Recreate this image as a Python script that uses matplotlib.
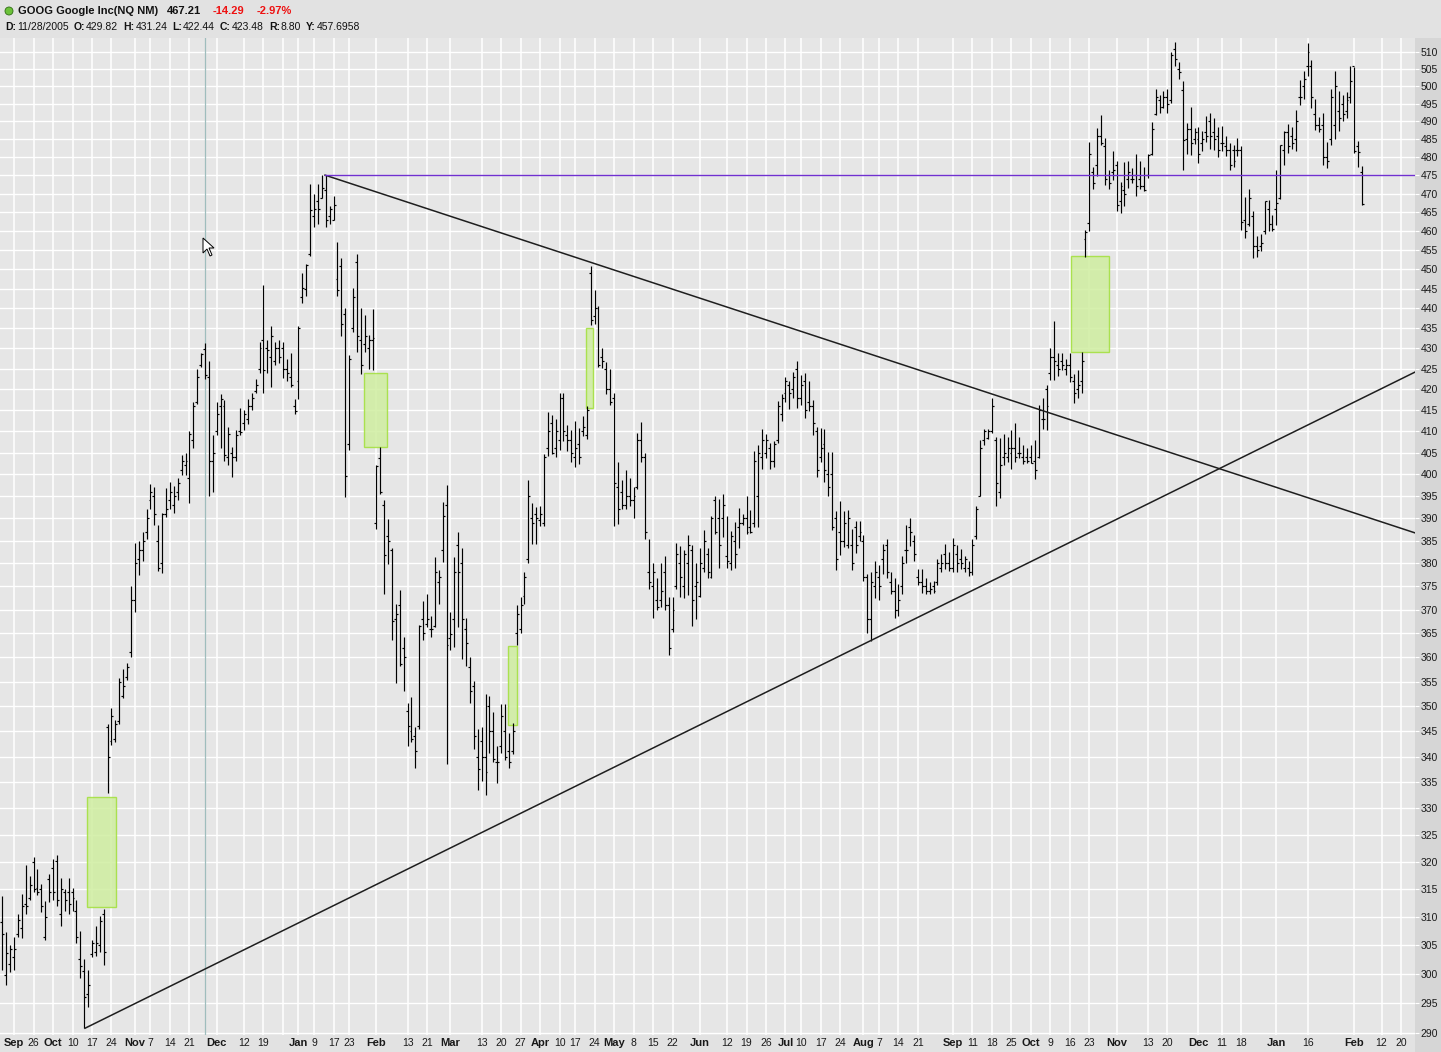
import matplotlib
matplotlib.use('Agg')
import matplotlib.pyplot as plt
from matplotlib.patches import Rectangle, Polygon, Ellipse
import numpy as np
import pandas as pd

plt.rcParams['font.family'] = ['Liberation Sans', 'DejaVu Sans']

W, H = 1441, 1052

# trading calendar (NYSE holidays removed)
holidays = ['2005-11-24', '2005-12-26', '2006-01-02', '2006-01-16', '2006-02-20',
            '2006-04-14', '2006-05-29', '2006-07-04', '2006-09-04', '2006-11-23',
            '2006-12-25', '2007-01-01', '2007-01-02', '2007-01-15', '2007-02-19']
all_days = pd.bdate_range('2005-09-14', '2007-02-28')
days = all_days[~all_days.isin(pd.to_datetime(holidays))]

# daily bars, 2005-09-14 .. 2007-02-05
opens = [
    309.2, 299.9, 301.7, 302.9, 307.0, 308.0, 312.3, 313.4, 319.9, 315.2,
    315.0, 306.5, 316.8, 318.8, 320.2, 310.5, 314.6, 314.6, 314.6, 311.1,
    302.6, 300.5, 296.5, 303.5, 303.8, 305.0, 310.5, 345.8, 343.0, 343.5,
    347.0, 352.0, 356.0, 361.0, 372.0, 381.0, 383.0, 387.0, 394.0, 395.0,
    385.0, 380.0, 391.0, 394.0, 393.0, 396.0, 401.0, 402.0, 399.0, 408.0,
    417.0, 426.0, 429.82, 423.0, 403.0, 410.0, 416.0, 416.0, 404.0, 405.0,
    404.0, 410.0, 412.0, 413.0, 416.0, 419.5, 425.0, 432.0, 430.0, 428.0,
    427.0, 430.0, 430.0, 425.0, 423.0, 416.0, 422.0, 443.0, 445.0, 454.0,
    464.0, 468.0, 469.0, 471.0, 464.0, 463.0, 447.6, 450.9, 438.7, 407.1,
    435.0, 452.0, 432.0, 431.0, 430.0, 432.0, 389.0, 403.8, 393.0, 386.0,
    383.0, 368.0, 371.0, 362.0, 349.0, 345.0, 344.0, 346.0, 368.0, 367.0,
    366.0, 366.5, 376.0, 383.0, 393.0, 364.0, 368.0, 384.0, 380.0, 366.0,
    358.0, 354.0, 340.0, 343.0, 340.0, 350.0, 345.0, 339.0, 342.0, 345.0,
    341.0, 341.0, 365.0, 366.0, 373.0, 381.0, 390.0, 391.0, 389.5, 389.0,
    406.0, 412.0, 406.0, 408.0, 418.0, 409.0, 408.0, 404.0, 407.0, 410.0,
    409.0, 449.0, 438.0, 440.0, 428.0, 425.0, 420.0, 418.0, 397.0, 396.0,
    393.0, 395.0, 394.0, 397.0, 408.0, 404.0, 378.0, 375.0, 372.0, 372.0,
    378.0, 371.0, 366.0, 375.0, 380.0, 375.0, 380.0, 383.0, 375.0, 373.0,
    379.0, 382.0, 377.0, 394.0, 390.0, 390.0, 381.5, 380.0, 385.0, 388.0,
    389.0, 390.0, 388.0, 389.0, 395.0, 404.0, 405.0, 406.0, 403.0, 408.0,
    414.0, 419.0, 421.0, 420.0, 425.0, 418.0, 422.0, 417.0, 416.0, 410.0,
    404.0, 407.0, 400.0, 400.0, 390.0, 387.0, 385.0, 384.0, 384.0, 388.0,
    386.0, 385.0, 377.0, 368.0, 375.0, 377.0, 381.0, 384.0, 376.0, 374.0,
    370.0, 375.0, 383.0, 388.0, 385.0, 377.0, 376.0, 375.0, 374.0, 375.0,
    376.0, 379.0, 382.0, 380.0, 379.0, 382.0, 381.0, 379.0, 379.0, 378.0,
    386.0, 395.0, 408.0, 408.5, 410.0, 408.0, 396.0, 404.0, 404.0, 405.0,
    406.0, 405.0, 404.0, 404.0, 404.0, 403.0, 404.0, 413.0, 420.0, 424.0,
    428.0, 426.0, 427.0, 425.0, 426.0, 422.0, 420.0, 422.0, 458.0, 462.3,
    476.0, 478.0, 486.0, 483.0, 475.0, 476.0, 478.0, 468.0, 471.0, 474.0,
    474.0, 475.0, 474.0, 472.0, 475.0, 481.0, 492.0, 496.0, 494.0, 497.0,
    496.0, 511.0, 505.0, 499.0, 485.0, 488.0, 485.0, 485.0, 484.0, 487.0,
    490.0, 487.0, 486.0, 484.0, 483.0, 482.0, 482.0, 482.0, 482.0, 463.0,
    462.0, 464.0, 456.0, 456.0, 460.0, 466.0, 462.0, 466.0, 469.0, 482.0,
    487.0, 486.0, 485.0, 497.0, 500.0, 506.0, 506.0, 492.0, 489.0, 489.0,
    480.0, 485.0, 489.0, 493.0, 495.0, 493.0, 497.0, 506.0, 483.0, 476.0,
]
highs = [
    313.7, 307.3, 305.0, 306.5, 310.5, 314.1, 319.4, 317.5, 320.9, 318.7,
    316.0, 312.9, 317.8, 320.5, 321.2, 317.0, 315.0, 317.0, 315.2, 313.0,
    307.6, 302.6, 300.7, 306.0, 308.5, 310.2, 311.4, 346.4, 349.7, 347.3,
    355.8, 357.5, 358.9, 375.0, 384.4, 385.0, 386.8, 392.1, 397.7, 397.0,
    388.4, 391.1, 396.8, 398.2, 397.2, 399.0, 404.4, 405.0, 410.0, 416.9,
    425.0, 428.9, 431.24, 427.0, 409.0, 416.9, 418.9, 417.4, 411.1, 406.4,
    410.2, 415.4, 415.0, 417.7, 419.2, 422.6, 431.6, 446.0, 432.0, 435.5,
    431.6, 432.0, 431.6, 427.4, 428.8, 417.7, 435.5, 449.0, 451.5, 472.7,
    470.0, 472.7, 475.1, 475.0, 466.7, 469.4, 457.1, 452.9, 440.2, 428.4,
    445.1, 454.0, 440.2, 438.4, 433.4, 439.8, 402.1, 406.2, 394.0, 389.8,
    383.4, 371.1, 374.1, 364.3, 350.7, 351.8, 345.9, 366.8, 371.8, 373.3,
    368.7, 381.3, 378.5, 393.6, 397.5, 369.5, 381.3, 387.0, 383.4, 368.3,
    360.0, 355.1, 345.4, 345.9, 352.5, 352.1, 348.9, 342.1, 350.4, 350.4,
    344.7, 346.6, 371.0, 372.8, 378.1, 398.7, 393.5, 392.4, 392.8, 404.7,
    414.6, 413.9, 412.8, 419.0, 419.0, 411.5, 410.2, 412.5, 410.8, 413.6,
    416.0, 451.0, 444.6, 440.6, 430.0, 426.6, 424.9, 419.0, 402.9, 398.6,
    401.0, 399.0, 397.1, 409.6, 412.2, 404.8, 385.3, 380.0, 376.7, 380.0,
    381.7, 372.8, 372.8, 384.4, 383.7, 383.0, 386.2, 384.0, 380.0, 383.3,
    387.4, 383.3, 390.5, 394.9, 394.3, 395.5, 390.4, 387.1, 389.1, 392.3,
    391.0, 394.9, 391.9, 405.4, 406.8, 410.6, 409.4, 407.2, 407.7, 417.2,
    418.8, 423.1, 421.9, 424.3, 426.9, 423.5, 423.9, 421.9, 417.4, 411.0,
    410.7, 410.5, 405.1, 405.1, 391.6, 393.8, 391.6, 391.9, 387.6, 389.3,
    389.3, 386.2, 377.6, 378.0, 380.6, 379.7, 384.2, 385.3, 378.0, 376.7,
    375.6, 381.7, 388.4, 390.0, 386.3, 378.7, 378.7, 376.7, 376.0, 376.2,
    380.9, 382.0, 384.2, 382.5, 385.6, 384.0, 383.1, 381.7, 380.6, 385.3,
    392.8, 407.9, 410.6, 410.5, 418.0, 408.6, 408.4, 409.3, 408.6, 410.3,
    412.0, 408.6, 406.8, 406.1, 406.8, 408.0, 416.2, 417.9, 421.1, 430.0,
    436.9, 428.9, 428.9, 427.5, 428.9, 423.7, 424.8, 429.0, 460.4, 484.2,
    477.4, 488.2, 491.9, 485.4, 476.5, 481.8, 479.1, 473.3, 478.7, 479.1,
    477.0, 481.0, 479.1, 477.4, 480.8, 489.8, 499.3, 497.4, 498.8, 499.3,
    510.0, 513.0, 507.0, 501.5, 489.5, 494.2, 488.2, 488.4, 487.3, 491.6,
    492.4, 491.0, 488.4, 488.7, 486.0, 484.0, 483.3, 485.4, 483.0, 469.1,
    471.2, 465.3, 458.8, 459.2, 468.1, 468.3, 464.4, 476.5, 483.3, 487.3,
    489.2, 488.4, 493.3, 501.8, 504.3, 512.5, 507.5, 496.5, 491.3, 492.4,
    484.3, 499.3, 504.3, 498.8, 497.4, 498.3, 506.0, 505.6, 484.5, 477.7,
]
lows = [
    300.7, 298.2, 300.3, 300.7, 306.4, 306.3, 310.5, 313.0, 314.6, 314.0,
    311.0, 306.0, 312.7, 313.1, 312.0, 308.5, 311.1, 310.6, 311.1, 305.4,
    299.4, 290.9, 294.4, 303.0, 303.2, 303.8, 301.6, 333.0, 342.3, 342.9,
    346.4, 351.6, 355.4, 360.0, 369.5, 377.5, 380.5, 385.3, 392.1, 388.4,
    378.3, 377.9, 390.2, 392.1, 391.1, 394.0, 399.7, 399.7, 393.5, 406.1,
    416.5, 425.5, 422.44, 395.0, 396.0, 409.0, 406.1, 403.1, 402.2, 399.3,
    403.1, 409.0, 410.2, 411.8, 415.0, 419.2, 424.0, 419.2, 424.0, 420.5,
    425.9, 426.3, 422.8, 421.9, 420.5, 414.0, 417.7, 441.4, 443.1, 453.6,
    461.2, 461.8, 468.9, 461.2, 461.8, 462.9, 443.3, 433.2, 394.8, 405.6,
    434.1, 429.1, 423.7, 429.0, 425.0, 424.6, 387.6, 395.5, 373.4, 379.9,
    363.5, 354.8, 358.1, 353.0, 342.1, 342.8, 337.7, 345.4, 363.5, 366.4,
    364.3, 366.3, 371.1, 380.2, 338.5, 361.5, 362.2, 366.4, 359.6, 358.1,
    350.7, 341.4, 333.5, 335.3, 332.6, 340.7, 339.0, 334.9, 340.7, 339.3,
    337.7, 340.5, 362.6, 365.0, 371.2, 380.0, 384.2, 384.3, 388.2, 388.2,
    404.1, 404.7, 404.0, 405.6, 407.8, 405.3, 402.9, 401.7, 402.4, 408.9,
    408.2, 435.9, 436.1, 425.5, 425.1, 418.9, 416.2, 388.3, 388.6, 392.0,
    392.0, 392.7, 390.0, 396.6, 402.9, 385.3, 374.4, 368.3, 370.0, 370.6,
    370.0, 360.5, 365.3, 374.4, 372.7, 372.4, 373.1, 366.6, 368.0, 372.7,
    378.1, 376.9, 376.9, 386.5, 378.9, 385.9, 378.9, 378.5, 378.9, 383.3,
    388.5, 386.5, 386.6, 388.1, 388.1, 401.2, 403.7, 401.2, 401.6, 407.2,
    412.5, 417.0, 415.2, 418.0, 415.5, 416.2, 413.1, 414.8, 409.0, 399.3,
    402.9, 398.3, 394.9, 387.4, 378.6, 381.8, 383.5, 383.3, 378.6, 382.2,
    384.9, 376.1, 365.0, 363.4, 372.4, 372.0, 377.6, 376.9, 373.4, 368.3,
    368.7, 373.4, 380.0, 383.7, 380.6, 375.2, 373.6, 373.4, 373.4, 373.5,
    375.2, 378.0, 378.7, 378.3, 378.0, 378.0, 378.7, 378.0, 377.3, 377.5,
    385.3, 394.9, 406.8, 408.2, 409.6, 392.8, 394.6, 402.2, 402.9, 401.2,
    402.9, 403.8, 402.4, 402.5, 402.5, 398.9, 403.8, 410.6, 410.3, 422.3,
    422.3, 423.2, 424.8, 423.5, 421.7, 416.8, 418.0, 419.0, 453.2, 460.0,
    471.2, 474.8, 483.5, 472.4, 471.2, 473.9, 465.3, 464.9, 466.6, 471.6,
    473.0, 469.4, 471.2, 470.7, 474.2, 480.6, 491.7, 492.4, 493.7, 492.4,
    495.1, 506.0, 502.0, 476.5, 481.0, 480.6, 483.6, 478.5, 481.8, 484.3,
    482.4, 482.0, 480.1, 481.8, 480.3, 476.5, 477.4, 480.3, 460.4, 458.2,
    461.5, 453.0, 453.3, 454.7, 459.2, 460.0, 460.0, 461.6, 468.6, 477.8,
    481.1, 482.4, 481.6, 494.6, 496.5, 503.0, 493.7, 487.7, 487.0, 477.8,
    477.0, 483.3, 485.2, 487.3, 490.0, 491.0, 495.1, 481.1, 477.4, 466.9,
]
closes = [
    307.0, 303.6, 304.3, 304.3, 309.5, 312.0, 312.0, 315.8, 315.0, 314.6,
    312.0, 310.0, 314.6, 314.6, 313.0, 315.0, 313.0, 312.3, 313.5, 306.4,
    301.4, 296.0, 298.1, 305.5, 305.5, 309.3, 303.8, 339.9, 348.0, 346.5,
    355.0, 354.0, 358.0, 372.0, 380.0, 383.0, 385.0, 390.0, 396.0, 391.0,
    379.0, 391.0, 392.0, 396.0, 395.0, 398.0, 403.0, 403.0, 409.4, 416.0,
    423.0, 428.6, 423.48, 403.0, 404.9, 414.1, 417.7, 404.5, 409.4, 404.0,
    409.2, 409.9, 414.0, 416.0, 418.0, 421.0, 430.2, 424.6, 429.7, 433.0,
    430.0, 428.0, 425.0, 424.0, 421.0, 414.9, 435.2, 445.2, 451.2, 465.7,
    466.0, 466.0, 471.6, 463.0, 466.0, 467.0, 444.7, 436.1, 399.5, 427.3,
    443.0, 433.0, 426.0, 433.0, 432.0, 432.7, 401.8, 396.0, 381.9, 385.0,
    367.6, 369.0, 358.6, 360.0, 346.0, 343.5, 341.0, 366.5, 365.0, 368.0,
    366.0, 378.0, 377.0, 390.4, 362.6, 364.8, 378.0, 378.0, 368.0, 363.0,
    353.0, 344.0, 337.5, 340.0, 337.0, 345.0, 339.5, 339.0, 348.0, 340.0,
    339.0, 345.0, 369.0, 371.0, 377.0, 395.0, 389.0, 390.0, 391.0, 404.0,
    410.0, 405.0, 410.0, 418.0, 410.0, 408.0, 405.0, 406.0, 404.0, 411.0,
    415.0, 437.1, 440.0, 426.0, 427.0, 420.0, 417.0, 398.0, 392.0, 393.0,
    395.0, 394.0, 395.0, 408.0, 404.0, 387.0, 376.0, 378.0, 370.5, 374.0,
    371.0, 362.0, 370.0, 382.0, 377.0, 382.0, 384.0, 372.0, 376.0, 380.0,
    385.0, 378.0, 390.0, 387.0, 384.0, 393.0, 380.5, 386.0, 382.0, 389.0,
    390.0, 387.0, 387.0, 403.0, 405.0, 408.0, 408.0, 403.0, 407.0, 416.0,
    418.0, 422.0, 419.0, 423.0, 418.0, 421.0, 415.0, 416.0, 412.0, 401.0,
    406.0, 401.0, 397.0, 388.0, 381.0, 385.0, 389.0, 390.0, 380.0, 384.0,
    387.0, 377.0, 368.0, 376.0, 378.0, 375.0, 383.0, 378.0, 374.0, 370.0,
    372.0, 380.0, 383.0, 387.0, 382.0, 376.0, 375.0, 374.0, 374.5, 374.0,
    380.0, 380.0, 380.0, 379.0, 384.0, 380.0, 380.0, 381.0, 378.0, 384.0,
    392.0, 406.0, 410.0, 410.0, 416.0, 398.0, 402.0, 405.0, 406.0, 406.0,
    404.0, 405.0, 403.0, 403.0, 402.5, 401.0, 415.0, 413.0, 416.0, 428.0,
    427.0, 425.0, 426.0, 426.0, 423.0, 419.0, 421.0, 427.0, 459.7, 480.8,
    473.0, 486.0, 484.0, 474.0, 473.0, 476.4, 467.0, 472.0, 470.0, 476.0,
    474.0, 472.0, 472.0, 471.0, 480.7, 488.0, 497.0, 494.0, 497.0, 495.0,
    509.0, 508.0, 504.0, 484.7, 488.0, 484.0, 487.0, 481.0, 485.0, 486.0,
    486.0, 485.0, 482.0, 484.0, 482.0, 478.0, 479.0, 482.0, 462.5, 460.0,
    469.0, 456.0, 455.0, 457.0, 468.0, 462.0, 460.5, 467.6, 483.3, 487.0,
    483.0, 484.0, 490.0, 497.0, 502.0, 510.0, 497.0, 489.0, 488.0, 480.0,
    479.0, 497.0, 500.0, 491.0, 492.0, 496.0, 501.5, 481.75, 481.5, 467.2,
]

# x axis labels (first trading day of week / month)
tick_dates = ['2005-09-19', '2005-09-26', '2005-10-03', '2005-10-10', '2005-10-17', '2005-10-24',
              '2005-11-01', '2005-11-07', '2005-11-14', '2005-11-21', '2005-12-01', '2005-12-12',
              '2005-12-19', '2006-01-03', '2006-01-09', '2006-01-17', '2006-01-23', '2006-02-01',
              '2006-02-13', '2006-02-21', '2006-03-01', '2006-03-13', '2006-03-20', '2006-03-27',
              '2006-04-03', '2006-04-10', '2006-04-17', '2006-04-24', '2006-05-01', '2006-05-08',
              '2006-05-15', '2006-05-22', '2006-06-01', '2006-06-12', '2006-06-19', '2006-06-26',
              '2006-07-03', '2006-07-10', '2006-07-17', '2006-07-24', '2006-08-01', '2006-08-07',
              '2006-08-14', '2006-08-21', '2006-09-01', '2006-09-11', '2006-09-18', '2006-09-25',
              '2006-10-02', '2006-10-09', '2006-10-16', '2006-10-23', '2006-11-01', '2006-11-13',
              '2006-11-20', '2006-12-01', '2006-12-11', '2006-12-18', '2007-01-03', '2007-01-16',
              '2007-02-01', '2007-02-12', '2007-02-20']
tick_text = ['Sep', '26', 'Oct', '10', '17', '24',
             'Nov', '7', '14', '21', 'Dec', '12',
             '19', 'Jan', '9', '17', '23', 'Feb',
             '13', '21', 'Mar', '13', '20', '27',
             'Apr', '10', '17', '24', 'May', '8',
             '15', '22', 'Jun', '12', '19', '26',
             'Jul', '10', '17', '24', 'Aug', '7',
             '14', '21', 'Sep', '11', '18', '25',
             'Oct', '9', '16', '23', 'Nov', '13',
             '20', 'Dec', '11', '18', 'Jan', '16',
             'Feb', '12', '20']
extra_grid_dates = ['2005-12-27']
price_ticks = list(range(290, 511, 5))

# user drawn gap boxes (bar index units, price)
gap_x0 = [21.8, 92.8, 129.8, 149.8, 274.3]
gap_x1 = [29.2, 98.7, 132.1, 151.6, 284.0]
gap_lo = [311.8, 406.3, 346.2, 415.5, 429.1]
gap_hi = [332.2, 424.0, 362.3, 435.1, 453.5]

# trend lines drawn on the chart
trend_x = [[21.2, 362.6], [82.8, 362.6]]
trend_y = [[290.8, 424.2], [475.1, 386.7]]
level_price = 475.1
level_start = 82.8
cursor_date = '2005-11-28'

# header read-out
info_labels = ['D:', 'O:', 'H:', 'L:', 'C:', 'R:', 'Y:']
info_values = ['11/28/2005', '429.82', '431.24', '422.44', '423.48', '8.80', '457.6958']


def pos(d):
    return days.get_loc(pd.Timestamp(d))


def fx(px):
    return px / W


def fy(py):
    return 1 - py / H


fig = plt.figure(figsize=(W / 100, H / 100), dpi=100)
fig.patch.set_facecolor('#e2e2e2')
# darker strip behind the price scale
fig.add_artist(Rectangle((fx(1415), 0), 1 - fx(1415), fy(38), transform=fig.transFigure,
                         facecolor='#d6d6d6', edgecolor='none', zorder=0))

ax = fig.add_axes([0, (H - 1035) / H, 1415 / W, 997 / H])
ax.set_facecolor('#e6e6e6')
ax.set_yscale('log')
ax.set_xlim(-0.618, 362.58)
ax.set_ylim(289.67, 514.1)
for s in ax.spines.values():
    s.set_visible(False)

# grid
for p in price_ticks:
    ax.axhline(p, color='white', lw=1.0, zorder=0.5)
for d in tick_dates + extra_grid_dates:
    ax.axvline(pos(d), color='white', lw=1.1, zorder=0.5)

# crosshair
ax.axvline(pos(cursor_date), color='#9fbdbd', lw=0.9, zorder=0.8)

# gap boxes
for a, b, lo, hi in zip(gap_x0, gap_x1, gap_lo, gap_hi):
    ax.add_patch(Rectangle((a, lo), b - a, hi - lo, facecolor='#cfeea0', alpha=0.85,
                           edgecolor='#a2e03a', lw=1.0, zorder=1))

# OHLC bars
x = np.arange(len(closes))
ax.vlines(x, lows, highs, color='black', lw=0.85, zorder=3)
ax.hlines(opens, x - 0.5, x, color='black', lw=0.85, zorder=3)
ax.hlines(closes, x, x + 0.5, color='black', lw=0.85, zorder=3)

# trend lines
for tx, ty in zip(trend_x, trend_y):
    ax.plot(tx, ty, color='#1e1e1e', lw=1.1, zorder=4)
ax.plot([level_start, ax.get_xlim()[1]], [level_price, level_price], color='#7030d0', lw=1.0, zorder=4)

# y axis on the right
ax.yaxis.tick_right()
ax.set_yticks(price_ticks)
ax.set_yticklabels([str(p) for p in price_ticks])
ax.minorticks_off()
ax.tick_params(axis='y', length=3, color='white', pad=1, labelsize=7.5, labelcolor='#1a1a1a')

# x axis labels
ax.set_xticks([pos(d) for d in tick_dates])
ax.set_xticklabels(tick_text)
ax.tick_params(axis='x', length=0, pad=2, labelsize=7.5, labelcolor='#1a1a1a')
for lab in ax.get_xticklabels():
    if lab.get_text().isalpha():
        lab.set_fontweight('bold')
        lab.set_fontsize(8)

# header
fig.add_artist(Ellipse((fx(9), fy(11)), 8 / W, 8 / H, transform=fig.transFigure,
                       facecolor='#6cc23a', edgecolor='#2f6d14', lw=0.6))
fig.text(fx(18), fy(11), 'GOOG Google Inc(NQ NM)', fontsize=8, fontweight='bold', va='center', color='#111111')
fig.text(fx(167), fy(11), '467.21', fontsize=8, fontweight='bold', va='center', color='#111111')
fig.text(fx(213), fy(11), '-14.29', fontsize=8, fontweight='bold', va='center', color='#ee1111')
fig.text(fx(257), fy(11), '-2.97%', fontsize=8, fontweight='bold', va='center', color='#ee1111')

# read-out line: bold label followed by plain value, laid out one after another
renderer = fig.canvas.get_renderer()
cur = 5.0
for lab, val in zip(info_labels, info_values):
    t = fig.text(fx(cur), fy(27), lab, fontsize=7.5, fontweight='bold', va='center', color='#111111')
    cur = t.get_window_extent(renderer).x1 + 1
    t = fig.text(fx(cur), fy(27), val, fontsize=7.5, va='center', color='#111111')
    cur = t.get_window_extent(renderer).x1 + 5

# mouse pointer
tip = (203, 238)
shape = [(0, 0), (0, 15), (4, 11), (7, 18), (9, 17), (6, 10), (11, 10)]
fig.add_artist(Polygon([(fx(tip[0] + a), fy(tip[1] + b)) for a, b in shape], closed=True,
                       transform=fig.transFigure, facecolor='white', edgecolor='black', lw=0.7, zorder=10))

fig.savefig('out.png', dpi=100, facecolor=fig.get_facecolor())
